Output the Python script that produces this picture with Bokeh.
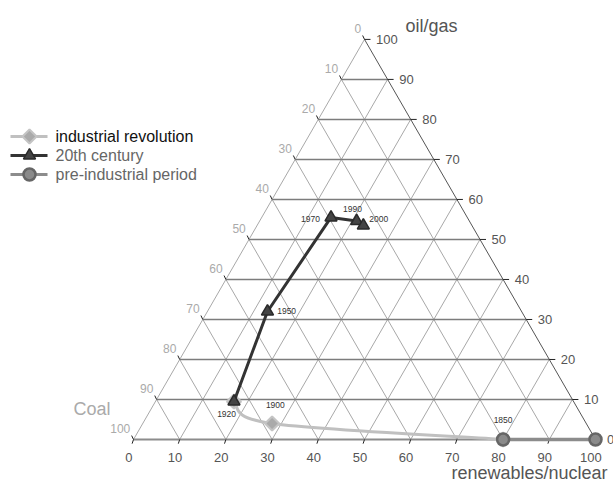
import numpy as np
from bokeh.plotting import figure
from bokeh.models import Range1d
from bokeh.core.properties import value
from bokeh.embed import file_html
from bokeh.resources import INLINE

# ---------------- data ----------------
ticks = list(range(0, 101, 10))
tick_labels = [str(t) for t in ticks]

series_names = ["industrial revolution", "20th century", "pre-industrial period"]

pre_years = ["", "1850"]
pre_renew = [100, 80]
pre_oil = [0, 0]

ind_years = ["", "1900", ""]
ind_renew = [80, 28, 17]
ind_oil = [0, 4, 9.5]

c20_years = ["1920", "1950", "1970", "1990", "2000"]
c20_renew = [17, 13, 15, 21, 23]
c20_oil = [9.5, 32, 55.5, 54.6, 53.5]

# label offsets (data units) for year annotations
pre_lbl_dx, pre_lbl_dy, pre_align = [0, 0], [0, 4.3], ["center", "center"]
ind_lbl_dx, ind_lbl_dy, ind_align = [0, 0.7, 0], [0, 3.9, 0], ["center", "center", "center"]
c20_lbl_dx = [-1.6, 2.1, -2.4, -0.9, 1.3]
c20_lbl_dy = [-2.7, 0.0, -0.4, 2.6, 1.3]
c20_align = ["center", "left", "right", "center", "left"]

H = np.sqrt(3) / 2
FONT = value("Liberation Sans")


def tx(r, g):
    return [ri + gi / 2 for ri, gi in zip(r, g)]


def ty(g):
    return [gi * H for gi in g]


# ---------------- figure ----------------
PX = 4.62          # screen pixels per percent
ORIGIN_X, ORIGIN_Y = 133, 439   # screen position of the 0/0 corner
W, HT = 613, 482
x0 = -ORIGIN_X / PX
y1 = ORIGIN_Y / PX
p = figure(width=W, height=HT, x_range=Range1d(x0, x0 + W / PX),
           y_range=Range1d(y1 - HT / PX, y1), output_backend="svg",
           toolbar_location=None, min_border=0,
           x_axis_location=None, y_axis_location=None)
p.grid.visible = False
p.outline_line_color = None
p.background_fill_color = "white"
p.border_fill_color = "white"


def sx(px):
    return (px - ORIGIN_X) / PX


def sy(py):
    return (ORIGIN_Y - py) / PX


inner = ticks[1:-1]
# lines of constant renewables (parallel to left edge)
p.multi_line([[t, t + (100 - t) / 2] for t in inner],
             [[0, (100 - t) * H] for t in inner], line_color="#a8a8a8", line_width=1)
# lines of constant coal (parallel to right edge)
p.multi_line([[t, t / 2] for t in inner],
             [[0, t * H] for t in inner], line_color="#a8a8a8", line_width=1)
# lines of constant oil/gas (horizontal)
p.multi_line([[t / 2, 100 - t / 2] for t in inner],
             [[t * H, t * H] for t in inner], line_color="#7c7c7c", line_width=1.5)

# edges
p.line([0, 50], [0, 100 * H], line_color="#a8a8a8", line_width=1)
p.line([100, 50], [0, 100 * H], line_color="#555555", line_width=1)
p.line([0, 100], [0, 0], line_color="#8c8c8c", line_width=2)

# ticks
p.multi_line([[100 - t / 2, 100 - t / 2 + 1.3] for t in ticks],
             [[t * H, t * H] for t in ticks], line_color="#222222", line_width=1)
p.multi_line([[t, t - 0.3] for t in ticks],
             [[0, -0.9] for t in ticks], line_color="#222222", line_width=1)
p.multi_line([[(100 - t) / 2, (100 - t) / 2 - 0.4] for t in ticks],
             [[(100 - t) * H, (100 - t) * H + 0.85] for t in ticks],
             line_color="#222222", line_width=1)

# tick labels
p.text(x=[t - 1.0 for t in ticks], y=[-3.8] * len(ticks), text=tick_labels,
       text_align="center", text_baseline="middle", text_color="#555555",
       text_font=FONT, text_font_size=value("13px"))
p.text(x=[100 - t / 2 + 2.5 for t in ticks], y=[t * H for t in ticks], text=tick_labels,
       text_align="left", text_baseline="middle", text_color="#555555",
       text_font=FONT, text_font_size=value("13px"))
p.text(x=[(100 - t) / 2 - 0.7 for t in ticks], y=[(100 - t) * H + 2.3 for t in ticks],
       text=tick_labels, text_align="right", text_baseline="middle",
       text_color="#aaaaaa", text_font=FONT, text_font_size=value("12px"))

# axis titles
p.text(x=[sx(405)], y=[sy(25)], text=["oil/gas"], text_align="left", text_baseline="middle",
       text_color="#555555", text_font=FONT, text_font_size=value("18px"))
p.text(x=[sx(110)], y=[sy(408)], text=["Coal"], text_align="right", text_baseline="middle",
       text_color="#aaaaaa", text_font=FONT, text_font_size=value("18px"))
p.text(x=[sx(607)], y=[sy(472)], text=["renewables/nuclear"], text_align="right",
       text_baseline="middle", text_color="#555555", text_font=FONT,
       text_font_size=value("18px"))

# ---------------- series ----------------
IND_STYLE = dict(line="#c0c0c0", marker="square", angle=np.pi / 4, size=10,
                 fill="#aaaaaa", outline="#c4c4c4", lw=2)
C20_STYLE = dict(line="#333333", marker="triangle", angle=0, size=12,
                 fill="#444444", outline="#2a2a2a", lw=1.5)
PRE_STYLE = dict(line="#8c8c8c", marker="circle", angle=0, size=12,
                 fill="#8a8a8a", outline="#666666", lw=2.5)

# industrial revolution: smoothed curve (Catmull-Rom via bezier)
ix, iy = tx(ind_renew, ind_oil), ty(ind_oil)
pts = list(zip(ix, iy))
bx0, by0, bx1, by1, c0x, c0y, c1x, c1y = [], [], [], [], [], [], [], []
for i in range(len(pts) - 1):
    pm = pts[max(i - 1, 0)]
    pa, pb = pts[i], pts[i + 1]
    pn = pts[min(i + 2, len(pts) - 1)]
    bx0.append(pa[0]); by0.append(pa[1]); bx1.append(pb[0]); by1.append(pb[1])
    c0x.append(pa[0] + (pb[0] - pm[0]) / 6); c0y.append(pa[1] + (pb[1] - pm[1]) / 6)
    c1x.append(pb[0] - (pn[0] - pa[0]) / 6); c1y.append(pb[1] - (pn[1] - pa[1]) / 6)
p.bezier(x0=bx0, y0=by0, x1=bx1, y1=by1, cx0=c0x, cy0=c0y, cx1=c1x, cy1=c1y,
         line_color=IND_STYLE["line"], line_width=3)
p.scatter(ix, iy, marker=IND_STYLE["marker"], angle=IND_STYLE["angle"], size=IND_STYLE["size"],
          fill_color=IND_STYLE["fill"], line_color=IND_STYLE["outline"], line_width=IND_STYLE["lw"])

cx, cy = tx(c20_renew, c20_oil), ty(c20_oil)
p.line(cx, cy, line_color=C20_STYLE["line"], line_width=3)
p.scatter(cx, cy, marker=C20_STYLE["marker"], size=C20_STYLE["size"],
          fill_color=C20_STYLE["fill"], line_color=C20_STYLE["outline"], line_width=C20_STYLE["lw"])

px_, py_ = tx(pre_renew, pre_oil), ty(pre_oil)
p.line(px_, py_, line_color=PRE_STYLE["line"], line_width=3.5)
p.scatter(px_, py_, marker=PRE_STYLE["marker"], size=PRE_STYLE["size"],
          fill_color=PRE_STYLE["fill"], line_color=PRE_STYLE["outline"], line_width=PRE_STYLE["lw"])

# year labels
for xs, ys, labels, dx, dy, al in [
    (px_, py_, pre_years, pre_lbl_dx, pre_lbl_dy, pre_align),
    (ix, iy, ind_years, ind_lbl_dx, ind_lbl_dy, ind_align),
    (cx, cy, c20_years, c20_lbl_dx, c20_lbl_dy, c20_align),
]:
    for xv, yv, lab, ddx, ddy, a in zip(xs, ys, labels, dx, dy, al):
        if lab:
            p.text(x=[xv + ddx], y=[yv + ddy], text=[lab], text_align=a,
                   text_baseline="middle", text_color="#333333", text_font=FONT,
                   text_font_size=value("8.5px"))

# ---------------- legend (drawn manually for full marker size) ----------------
leg_rows = [136, 155, 174]
leg_text_colors = ["#111111", "#666666", "#666666"]
for name, st, row, tc in zip(series_names, [IND_STYLE, C20_STYLE, PRE_STYLE],
                             leg_rows, leg_text_colors):
    yy = sy(row)
    p.line([sx(10), sx(47)], [yy, yy], line_color=st["line"], line_width=3)
    p.scatter([sx(29)], [yy], marker=st["marker"], angle=st["angle"], size=st["size"],
              fill_color=st["fill"], line_color=st["outline"], line_width=st["lw"])
    p.text(x=[sx(55)], y=[yy], text=[name], text_align="left", text_baseline="middle",
           text_color=tc, text_font=FONT, text_font_size=value("16px"))

open("out.html", "w").write(file_html(p, INLINE))
